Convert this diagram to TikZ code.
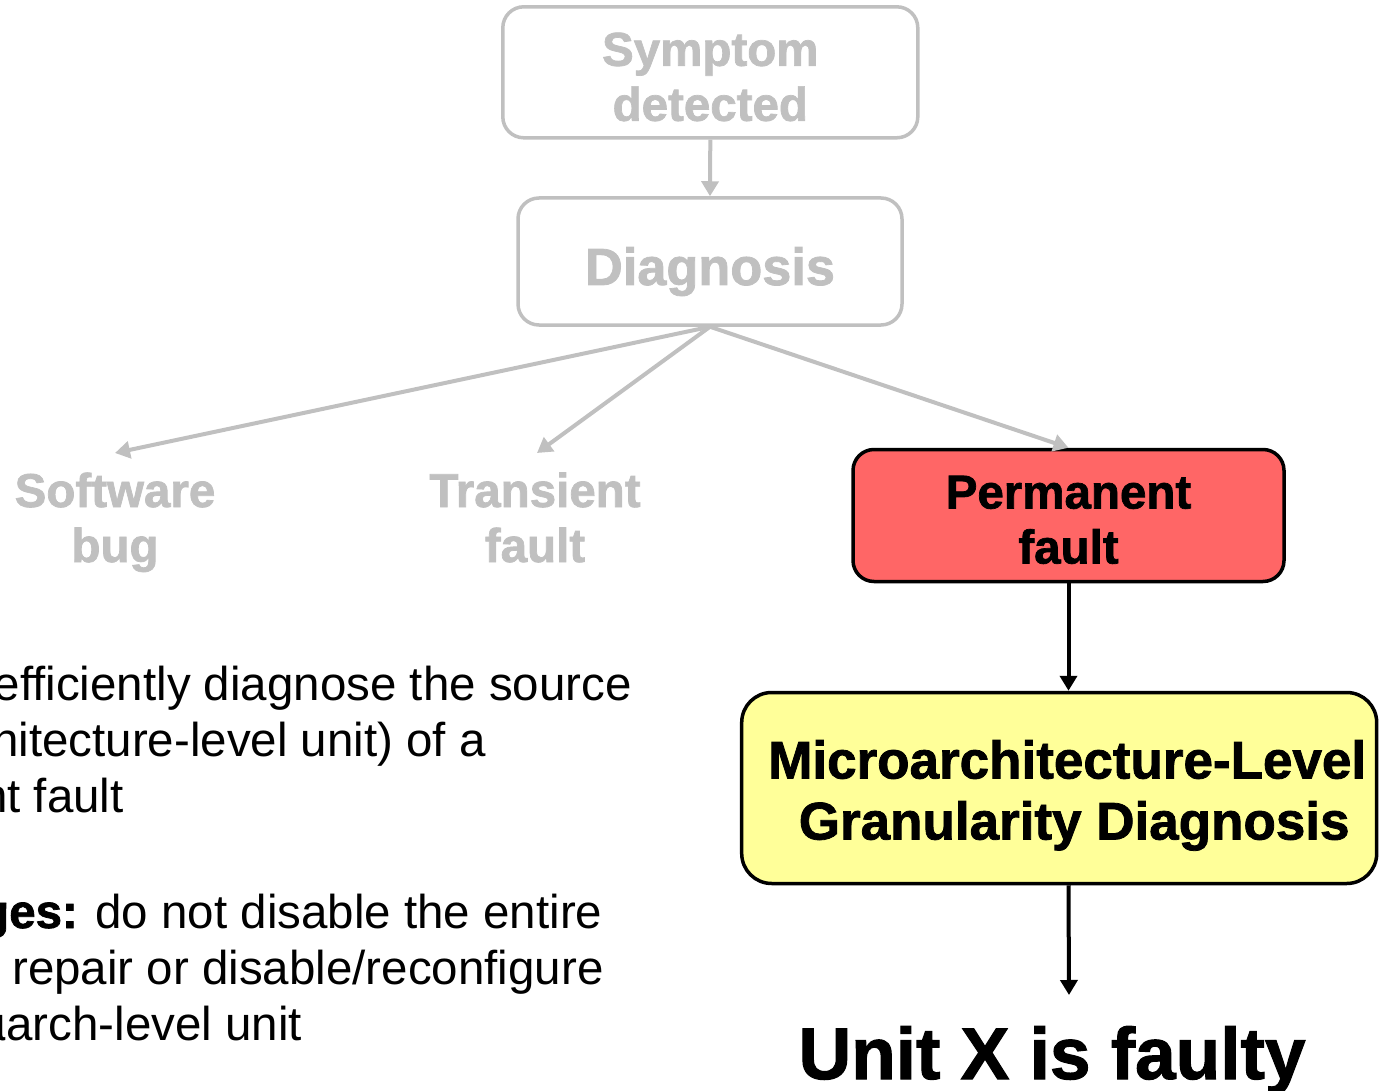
\documentclass[tikz,border=0pt]{standalone}
\usepackage{fontspec}
\setmainfont{Liberation Sans}[BoldFeatures={FakeBold=1.5}]
\usetikzlibrary{arrows.meta}

\definecolor{fadegray}{HTML}{C0C0C0}
\definecolor{faultred}{HTML}{FF6666}
\definecolor{diagyellow}{HTML}{FFFF99}

\begin{document}
\begin{tikzpicture}[x=1pt, y=-1pt,
  box/.style={draw, line width=3.5pt, align=center, inner sep=0pt},
  greybox/.style={box, draw=fadegray, text=fadegray, rounded corners=21pt},
  redbox/.style={box, draw=black, fill=faultred, rounded corners=21pt},
  yellowbox/.style={box, draw=black, fill=diagyellow, rounded corners=30pt},
  greytext/.style={text=fadegray, align=center, inner sep=0pt, anchor=base},
  bodytext/.style={inner sep=0pt, anchor=base west,
    font=\fontsize{47.5}{56}\selectfont},
  headfont/.style={font=\fontsize{47.5}{55}\selectfont\bfseries},
  flow/.style={line width=4pt, -{Triangle[width=17pt,length=15pt]}},
  greyflow/.style={flow, draw=fadegray, fill=fadegray},
  darkflow/.style={flow, draw=black, fill=black},
]
\useasboundingbox (0,0) rectangle (1381,1091);
\clip (0,0) rectangle (1381,1091);

% decision flow: symptom -> diagnosis -> three possible causes
% (text height is measured from the baseline of the last line)
\node[greybox, headfont, minimum width=415pt, minimum height=131pt,
      text height=97pt, text depth=0pt]
  (sym) at (710.3,72.3) {Symptom\\detected};
\node[greybox, font=\fontsize{52.3}{60}\selectfont\bfseries,
      minimum width=384pt, minimum height=127pt,
      text height=47pt, text depth=0pt]
  (diag) at (710,261.5) {Diagnosis};

\node[greytext, headfont] (sw) at (115,562) {Software\\bug};
\node[greytext, headfont] (tr) at (535,562) {Transient\\fault};

\node[redbox, headfont, minimum width=431pt, minimum height=132pt,
      text height=96pt, text depth=0pt]
  (perm) at (1068.5,515.5) {Permanent\\fault};

\node[yellowbox, font=\fontsize{53}{61}\selectfont\bfseries,
      minimum width=635pt, minimum height=191pt,
      text height=103pt, text depth=0pt]
  (micro) at (1059.2,788)
  {\hspace*{16pt}Microarchitecture-Level\\\hspace*{30pt}Granularity Diagnosis};

\node[inner sep=0pt, anchor=base, font=\fontsize{73}{80}\selectfont\bfseries]
  (unit) at (1052,1079) {Unit X is faulty};

\coordinate (swtip) at (115,453);
\coordinate (trtip) at (537,453);
\coordinate (unittip) at (1069,995);

\draw[greyflow] (sym.south) -- (diag.north);
\draw[greyflow] (diag.south) -- (swtip);
\draw[greyflow] (diag.south) -- (trtip);
\draw[greyflow] (diag.south) -- (perm.north);
\draw[darkflow] (perm.south) -- (perm.south |- micro.north);
\draw[darkflow] (micro.south -| perm.south) -- (unittip);

% bullet text on the left
\node[bodytext] (g1) at (-6.5,700) {efficiently diagnose the source};
\node[bodytext] (g2) at (-8,756.5) {hitecture-level unit) of a};
\node[bodytext] (g3) at (-19,812.5) {nt fault};
\node[bodytext] (a1) at (-20,928) {\textbf{ges:} do not disable the entire};
\node[bodytext] (a2) at (12,984) {repair or disable/reconfigure};
\node[bodytext] (a3) at (-21,1040) {µarch-level unit};
\end{tikzpicture}
\end{document}
